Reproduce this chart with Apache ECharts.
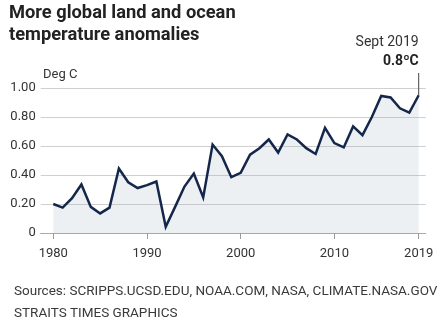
<!DOCTYPE html>
<html>
<head>
<meta charset="utf-8">
<script src="https://cdn.jsdelivr.net/npm/echarts@6/dist/echarts.min.js"></script>
<style>
  html, body { margin: 0; padding: 0; background: #fff; }
  #chart { width: 441px; height: 324px; }
</style>
</head>
<body>
<div id="chart"></div>
<script>
// Annual global land and ocean temperature anomalies, deg C
const years = [];
for (let y = 1980; y <= 2019; y++) years.push(String(y));

const anomalies = [
  0.20, 0.175, 0.24, 0.335, 0.18, 0.135, 0.175, 0.445, 0.35, 0.31,
  0.33, 0.355, 0.043, 0.18, 0.32, 0.41, 0.245, 0.61, 0.53, 0.385,
  0.415, 0.54, 0.585, 0.645, 0.555, 0.68, 0.645, 0.585, 0.545, 0.725,
  0.62, 0.59, 0.735, 0.675, 0.80, 0.945, 0.935, 0.86, 0.83, 0.95
];

const tickYears = ['1980', '1990', '2000', '2010', '2019'];
const yTicks = [0, 0.2, 0.4, 0.6, 0.8, 1.0];

const titleLines = ['More global land and ocean', 'temperature anomalies'];
const calloutLines = ['Sept 2019', '0.8\u00baC'];
const unitLabel = 'Deg C';
const sourceLines = [
  'Sources: SCRIPPS.UCSD.EDU, NOAA.COM, NASA, CLIMATE.NASA.GOV',
  'STRAITS TIMES GRAPHICS'
];

const FONT = 'Roboto, "Liberation Sans", sans-serif';
const chart = echarts.init(document.getElementById('chart'), null, { renderer: 'canvas' });

const option = {
  backgroundColor: '#ffffff',
  animation: false,
  grid: [
    // plotting area for the line
    { left: 53.3, right: 22.3, top: 88, bottom: 91 },
    // wider frame carrying the gridlines and baseline
    { left: 40.7, right: 15.3, top: 88, bottom: 91 }
  ],
  xAxis: [
    {
      gridIndex: 0,
      type: 'category',
      data: years,
      boundaryGap: false,
      axisLine: { show: false },
      axisTick: {
        show: true,
        length: 6,
        interval: (i, v) => tickYears.includes(v),
        lineStyle: { color: '#9a9a9a', width: 1 }
      },
      axisLabel: {
        interval: (i, v) => tickYears.includes(v),
        margin: 14,
        color: '#333',
        fontFamily: FONT,
        fontSize: 13
      },
      splitLine: { show: false }
    },
    {
      gridIndex: 1,
      type: 'value',
      min: 0,
      max: 1,
      axisLine: { show: true, onZero: false, lineStyle: { color: '#a8a8a8', width: 1 } },
      axisTick: { show: false },
      axisLabel: { show: false },
      splitLine: { show: false }
    }
  ],
  yAxis: [
    {
      gridIndex: 0,
      type: 'value',
      min: 0,
      max: 1,
      show: false
    },
    {
      gridIndex: 1,
      type: 'value',
      min: yTicks[0],
      max: yTicks[yTicks.length - 1],
      interval: 0.2,
      axisLine: { show: false },
      axisTick: { show: false },
      axisLabel: {
        margin: 5,
        color: '#333',
        fontFamily: FONT,
        fontSize: 13,
        formatter: v => (v === 0 ? '0' : v.toFixed(2))
      },
      splitLine: { show: true, lineStyle: { color: '#cfcfcf', width: 1 } }
    }
  ],
  series: [
    {
      type: 'line',
      xAxisIndex: 0,
      yAxisIndex: 0,
      data: anomalies,
      symbol: 'none',
      smooth: false,
      lineStyle: { color: '#14274a', width: 2.5, join: 'miter' },
      areaStyle: { color: 'rgba(165,176,190,0.28)' },
      z: 3
    }
  ]
};

chart.setOption(option);

// Leader line from the callout down to the last data point
const lastIdx = anomalies.length - 1;
const endPt = chart.convertToPixel({ gridIndex: 0 }, [years[lastIdx], anomalies[lastIdx]]);

chart.setOption({
  graphic: [
    {
      type: 'text',
      left: 9,
      top: 2,
      style: {
        text: titleLines.join('\n'),
        font: 'bold 18.3px ' + FONT,
        lineHeight: 22,
        fill: '#222'
      }
    },
    {
      type: 'text',
      x: endPt[0],
      y: 42,
      style: {
        text: calloutLines[0],
        font: '14px ' + FONT,
        fill: '#333',
        align: 'right',
        verticalAlign: 'middle'
      }
    },
    {
      type: 'text',
      x: endPt[0],
      y: 61,
      style: {
        text: calloutLines[1],
        font: 'bold 14px ' + FONT,
        fill: '#222',
        align: 'right',
        verticalAlign: 'middle'
      }
    },
    {
      type: 'line',
      shape: { x1: endPt[0], y1: 73, x2: endPt[0], y2: endPt[1] },
      style: { stroke: '#444', lineWidth: 1 },
      z: 10
    },
    {
      type: 'text',
      x: 43,
      y: 75,
      style: {
        text: unitLabel,
        font: '13px ' + FONT,
        fill: '#333',
        verticalAlign: 'middle'
      }
    },
    {
      type: 'text',
      x: 14,
      y: 281,
      style: {
        text: sourceLines.join('\n'),
        font: '13.5px ' + FONT,
        lineHeight: 22,
        fill: '#3a3a3a'
      }
    }
  ]
});
</script>
</body>
</html>
